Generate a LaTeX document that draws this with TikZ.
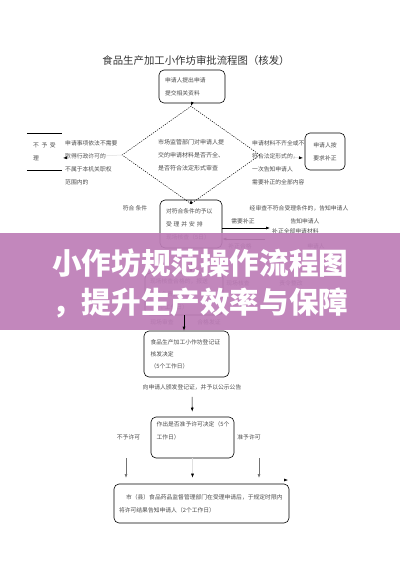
\documentclass[tikz,border=0pt]{standalone}
\usepackage{fontspec}
\setmainfont{Noto Sans CJK SC}
\usetikzlibrary{shapes.geometric,arrows.meta,calc}
\definecolor{viola}{RGB}{189,125,183}

\begin{document}
\begin{tikzpicture}[x=1pt,y=-1pt,>={Latex[length=4pt,width=3pt]}]
%===styles===
\tikzset{boxr/.style ={draw, rounded corners=5pt, line width=0.6pt, inner sep=0pt, align=left, font=\fontsize{5.8}{13}\selectfont, text=black!70},
 rombo/.style ={draw, diamond, dash pattern=on 1.2pt off 1.2pt, line width=0.5pt, inner sep=0pt, align=left, font=\fontsize{6}{13}\selectfont, text=black!70},
 testo/.style ={inner sep=0pt, align=left, font=\fontsize{5.8}{13}\selectfont, text=black!70},
 freccia/.style ={->, line width=0.6pt},
 grigia/.style ={->, line width=0.6pt, black!55},
 fantasma/.style ={-{Latex[length=4pt,width=3pt,color=black]}, draw=black!12, line width=0.5pt},
 striscia/.style ={inner sep=0pt, anchor=west, text=white, font=\fontsize{29.6}{30}\selectfont\bfseries}}
%===frame===
\fill[white] (0,0) rectangle (400,565);
\useasboundingbox (0,0) rectangle (400,565);
%===title===
\node[font=\fontsize{10.4}{12}\selectfont, text=black!80] (titolo) at (196,60.5) {食品生产加工小作坊审批流程图（核发）};
%===application and check===
\node[boxr, minimum width=66pt, minimum height=33pt, text width=54pt] (domanda) at (192,86.5) {申请人提出申请\\提交相关资料};
\node[rombo, minimum width=138pt, minimum height=73pt, text width=66pt] (verifica) at (191,155) {市场监管部门对申请人提\\交的申请材料是否齐全、\\是否符合法定形式审查};
\node[minimum width=35pt, minimum height=37pt, testo] (rifiuto) at (44.5,151.5) {不\ \ 予\ \ 受\\理};
\node[boxr, minimum width=40pt, minimum height=37pt, align=center] (integra) at (325,151.5) {申请人按\\要求补正};
\node[testo, anchor=west] (nosx) at (65,162.5) {申请事项依法不需要\\取得行政许可的\\不属于本机关职权\\范围内的};
\node[testo, anchor=west] (nodx) at (252,162.5) {申请材料不齐全或不\\符合法定形式的，\\一次告知申请人\\需要补正的全部内容};
\coordinate (psx) at (63,158);
\coordinate (pdx) at (303,158);
\draw[fantasma] (verifica.west) -- (psx);
\draw[fantasma] (verifica.east) -- (pdx);
\draw (rifiuto.north west) -- (rifiuto.north east);
\draw (rifiuto.south west) -- (rifiuto.south east);
\draw[freccia] (domanda.south) -- (verifica.north);
%===acceptance===
\node[boxr, minimum width=62pt, minimum height=48pt, text width=50pt] (accetta) at (191,224) {对符合条件的予以\\受\ 理\ 并\ 安\ 排\\现场核查（5日）};
\draw[freccia] (verifica.south) -- (accetta.north);
\node[testo] (idoneo) at (135,208) {符合\ 条件};
\node[testo] (nonidoneo) at (299,208) {经审查不符合受理条件的，告知申请人};
\node[testo] (correggi) at (243,221) {需要补正};
\node[testo] (avvisa) at (305,221) {告知申请人};
\coordinate (qdx) at (270,228);
\draw[freccia] (accetta.east |- qdx) -- (qdx);
\node[testo, anchor=west] (materiale) at (272,231) {补正全部申请材料};
\coordinate (qsx) at (265,239);
\draw[freccia] (qsx) -- (accetta.east |- qsx);
\node[testo] (corretto) at (240,246) {补正合格};
\node[testo] (richiedente) at (316,246) {申请人};
%===inspection===
\node[boxr, minimum width=78pt, minimum height=42pt, text width=68pt] (sopral) at (184,294) {现场核查合格的，报送\\审批负责人审核\\（3个工作日）};
\draw[freccia] (accetta.south) -- (accetta.south |- sopral.north);
\node[testo] (ispez) at (238,283) {现场核查};
\node[testo] (sanare) at (291,283) {责令整改};
\node[testo] (esame) at (162,322) {现场审查};
\node[testo] (valido) at (209,322) {合格发证};
%===banner===
\fill[viola, opacity=0.92] (0,233) rectangle (400,330);
\node[striscia] (slogan) at (52,263) {小作坊规范操作流程图};
\node[striscia] (sottotitolo) at (52,303) {，提升生产效率与保障};
%===licence===
\node[boxr, minimum width=85pt, minimum height=46pt, text width=72pt, font=\fontsize{5.8}{12}\selectfont] (rilascio) at (186.5,354) {食品生产加工小作坊登记证\\核发决定\\（5个工作日）};
\draw[freccia] (sopral.south) -- (sopral.south |- rilascio.north);
\node[testo] (avviso) at (192,387) {向申请人颁发登记证，并予以公示公告};
\node[boxr, minimum width=83pt, minimum height=41pt, text width=72pt] (decisione) at (192.5,437.5) {作出是否准予许可决定（5个\\工作日）\\\mbox{}};
\draw[freccia, shorten <=7pt, shorten >=5pt] (avviso) -- (decisione);
\node[testo] (nega) at (128.5,437) {不予许可};
\node[testo] (concede) at (249,437) {准予许可};
%===result===
\node[boxr, minimum width=175pt, minimum height=39pt, text width=165pt] (pubblica) at (201.5,503.5) {\hspace*{7pt}市（县）食品药品监督管理部门在受理申请后，于规定时限内\\将许可结果告知申请人（2个工作日）};
\coordinate (fsx) at (126,478);
\coordinate (fdx) at (259,478);
\draw[grigia] (fsx |- decisione.south) -- (fsx);
\draw[grigia] (fdx |- decisione.south) -- (fdx);
\draw[fantasma] (decisione.south) -- ($(decisione.south |- pubblica.north)+(0,-6)$);
\coordinate (punta) at (288,480);
\draw[fantasma] ($(punta)+(-4,0)$) -- (punta);
\end{tikzpicture}
\end{document}
